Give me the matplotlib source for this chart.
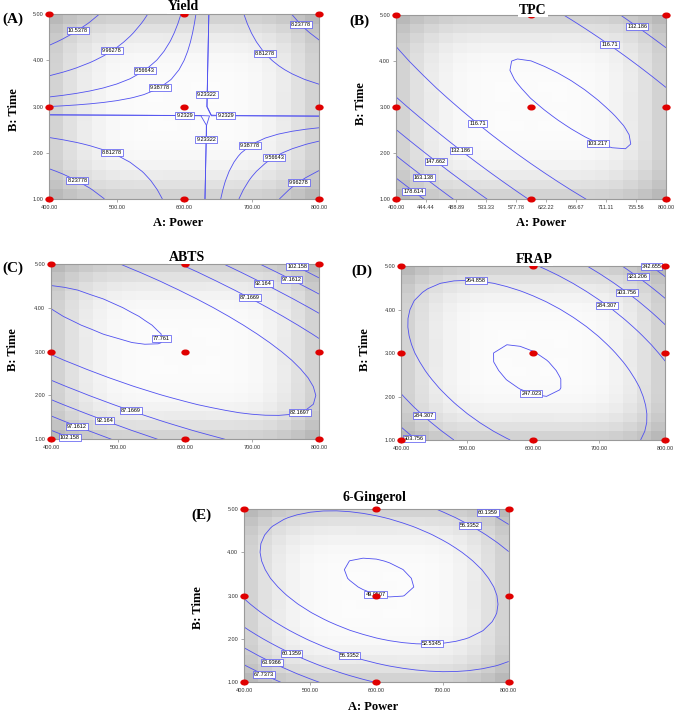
import numpy as np
import matplotlib
matplotlib.use("Agg")
import matplotlib.pyplot as plt
from matplotlib.path import Path
from matplotlib.transforms import Affine2D

# design points (face centred, 3 x 3, centre run repeated)
power_levels = [400, 600, 800]
time_levels = [1, 3, 5]
n_center = 5

# quadratic model in coded units: b0, A, B, AB, A^2, B^2
coef_yield = [9.2567, -0.1390, 0.2484, -1.4713, -0.0102, 0.0210]
coef_tpc = [104.0, -12.5819, -10.1766, 31.3118, 19.9772, 17.1443]
coef_abts = [78.1151, 1.7814, -1.0325, 12.2294, 5.3449, 10.6634]
coef_frap = [246.736, 8.788, 11.18, 29.39, 32.33, 24.65]
coef_ging = [49.076, -1.3275, -3.3205, 5.252, 5.616, 7.656]

levels_yield = [8.23778, 8.81278, 9.2329, 9.23322, 9.38778, 9.56643, 9.96278, 10.5378]
levels_tpc = [103.217, 116.71, 132.186, 147.662, 163.138, 178.614]
levels_abts = [77.761, 82.1697, 87.1669, 92.164, 97.1612, 102.158]
levels_frap = [247.023, 264.858, 284.307, 303.756, 323.206, 342.655]
levels_ging = [49.0507, 52.5345, 56.3352, 60.1359, 63.9366, 67.7373]

# where the contour labels sit (level, power, time)
labels_yield = [(10.5378, 440, 4.71), (9.96278, 490, 4.26), (9.56643, 537, 3.87), (9.38778, 559, 3.52),
                (9.23322, 617, 3.27), (9.2329, 601, 3.07), (8.23778, 767, 4.70), (8.81278, 719, 4.15),
                (9.2329, 661, 2.58), (9.23322, 648, 2.28), (9.38778, 700, 2.11), (9.56643, 734, 1.88),
                (9.96278, 766, 1.43), (8.81278, 495, 2.08), (8.23778, 445, 1.48)]
labels_tpc = [(132.186, 760, 4.80), (116.71, 719, 4.41), (116.71, 521, 2.65), (103.217, 701, 2.27),
              (132.186, 497, 2.07), (147.662, 460, 1.84), (163.138, 440, 1.45), (178.614, 432, 1.29)]
labels_abts = [(77.761, 599, 3.28), (82.1697, 768, 1.76), (87.1669, 699, 4.29), (92.164, 719, 4.61),
               (97.1612, 761, 4.70), (102.158, 767, 4.91), (87.1669, 520, 1.70), (92.164, 482, 1.49),
               (97.1612, 441, 1.38), (102.158, 433, 1.21)]
labels_frap = [(264.858, 513, 4.67), (247.023, 599, 2.14), (284.307, 710, 4.07), (303.756, 739, 4.36),
               (323.206, 754, 4.67), (342.655, 768, 4.88), (284.307, 439, 1.64), (303.756, 431, 1.25)]
labels_ging = [(49.0507, 600, 3.08), (52.5345, 684, 1.88), (56.3352, 559, 1.59), (56.3352, 743, 4.68),
               (60.1359, 767, 4.90), (60.1359, 472, 1.67), (63.9366, 442, 1.46), (67.7373, 432, 1.26)]

ticks_5 = [400, 500, 600, 700, 800]
ticks_10 = np.linspace(400, 800, 10)
time_ticks = [1, 2, 3, 4, 5]

W, H = 676, 714
line_blue = "#5050f0"
serif = ["Liberation Serif", "DejaVu Serif"]
sans = ["Liberation Sans", "DejaVu Sans"]


def model(c, x1, x2):
    return c[0] + c[1]*x1 + c[2]*x2 + c[3]*x1*x2 + c[4]*x1**2 + c[5]*x2**2


def terms(x1, x2):
    return np.stack([np.ones_like(x1), x1, x2, x1*x2, x1**2, x2**2], axis=-1)


# standard error of prediction from the design, used for the grey shading
d1, d2 = np.meshgrid([-1.0, 0.0, 1.0], [-1.0, 0.0, 1.0])
d1 = np.concatenate([d1.ravel(), np.zeros(n_center - 1)])
d2 = np.concatenate([d2.ravel(), np.zeros(n_center - 1)])
XtXi = np.linalg.inv(terms(d1, d2).T @ terms(d1, d2))
ncell = 19
c1, c2 = np.meshgrid(np.linspace(-1, 1, ncell), np.linspace(-1, 1, ncell))
T = terms(c1, c2)
se = np.sqrt(np.einsum("ijk,kl,ijl->ij", T, XtXi, T))
shade = 0.985 - 0.26 * (se - se.min()) / (se.max() - se.min())

dot = Path.unit_circle().transformed(Affine2D().scale(1.5, 1.0))

fig = plt.figure(figsize=(W / 100, H / 100), dpi=100)


def px(x, y):
    return x / W, 1 - y / H


def panel(box, title, letter, coef, levels, labels, xticks, title_xy, letter_xy, ylab_xy, xlab_xy=None):
    l, t, r, b = box
    ax = fig.add_axes([l / W, 1 - b / H, (r - l) / W, (b - t) / H])
    ax.imshow(shade, cmap="gray", vmin=0, vmax=1, extent=(400, 800, 1, 5), origin="lower",
              aspect="auto", interpolation="nearest", zorder=0)
    g1, g2 = np.meshgrid(np.linspace(-1, 1, 21), np.linspace(-1, 1, 21))
    Z = model(coef, g1, g2)
    texts = []
    for lev in levels:
        cs = ax.contour(g1 * 200 + 600, g2 * 2 + 3, Z, levels=[lev], colors=line_blue,
                        linewidths=0.6, zorder=2)
        spots = [(xp, yp) for lv, xp, yp in labels if lv == lev]
        if spots and len(cs.allsegs[0]):
            texts += ax.clabel(cs, manual=spots, inline=False, fontsize=4,
                               fmt="%g", colors="black")
    for txt in texts:
        txt.set_rotation(0)
        txt.set_family(sans)
        txt.set_zorder(4)
        txt.set_clip_on(False)
        txt.set_bbox(dict(boxstyle="square,pad=0.18", fc="white", ec=line_blue, lw=0.5))
    pp, tt = np.meshgrid(power_levels, time_levels)
    ax.plot(pp.ravel(), tt.ravel(), ls="none", marker=dot, ms=5, color="#e00000",
            clip_on=False, zorder=5)
    ax.set_xlim(400, 800)
    ax.set_ylim(1, 5)
    ax.set_xticks(xticks)
    ax.set_yticks(time_ticks)
    ax.set_xticklabels(["%.2f" % v for v in xticks], fontsize=4, family=sans, color="#333333")
    ax.set_yticklabels(["%.2f" % v for v in time_ticks], fontsize=4, family=sans, color="#333333")
    ax.tick_params(length=2.2, width=0.5, color="#888888", pad=2)
    for s in ax.spines.values():
        s.set_color("#9a9a9a")
        s.set_linewidth(0.8)
    fig.text(*px(*title_xy), title, fontsize=10, fontweight="bold", family=serif,
             ha="center", va="center", bbox=dict(fc="white", ec="none", pad=0.5), zorder=10)
    fig.text(*px(*letter_xy), letter, fontsize=11, fontweight="bold", family=serif,
             ha="center", va="center")
    fig.text(*px(*ylab_xy), "B: Time", fontsize=9, fontweight="bold", family=serif,
             ha="center", va="center", rotation=90)
    if xlab_xy is not None:
        fig.text(*px(*xlab_xy), "A: Power", fontsize=9, fontweight="bold", family=serif,
                 ha="center", va="center")
    return ax


panel((49.3, 14.3, 319.3, 199.0), "Yield", "(A)", coef_yield, levels_yield, labels_yield, ticks_5,
      (183, 7), (13, 19), (14, 110), (178, 223))
panel((396, 15, 666, 199.3), "TPC", "(B)", coef_tpc, levels_tpc, labels_tpc, ticks_10,
      (533, 10), (359, 21), (361, 104), (541, 223))
panel((51, 263.7, 319, 439.3), "ABTS", "(C)", coef_abts, levels_abts, labels_abts, ticks_5,
      (187, 257), (13, 268), (13, 350))
panel((401.3, 266.3, 665.3, 440), "FRAP", "(D)", coef_frap, levels_frap, labels_frap, ticks_5,
      (534, 259), (362, 271), (365, 350))
panel((244, 509, 508.7, 682.3), "6-Gingerol", "(E)", coef_ging, levels_ging, labels_ging, ticks_5,
      (374, 498), (201, 515), (198, 608), (373, 707))

fig.savefig("out.png", dpi=100)
